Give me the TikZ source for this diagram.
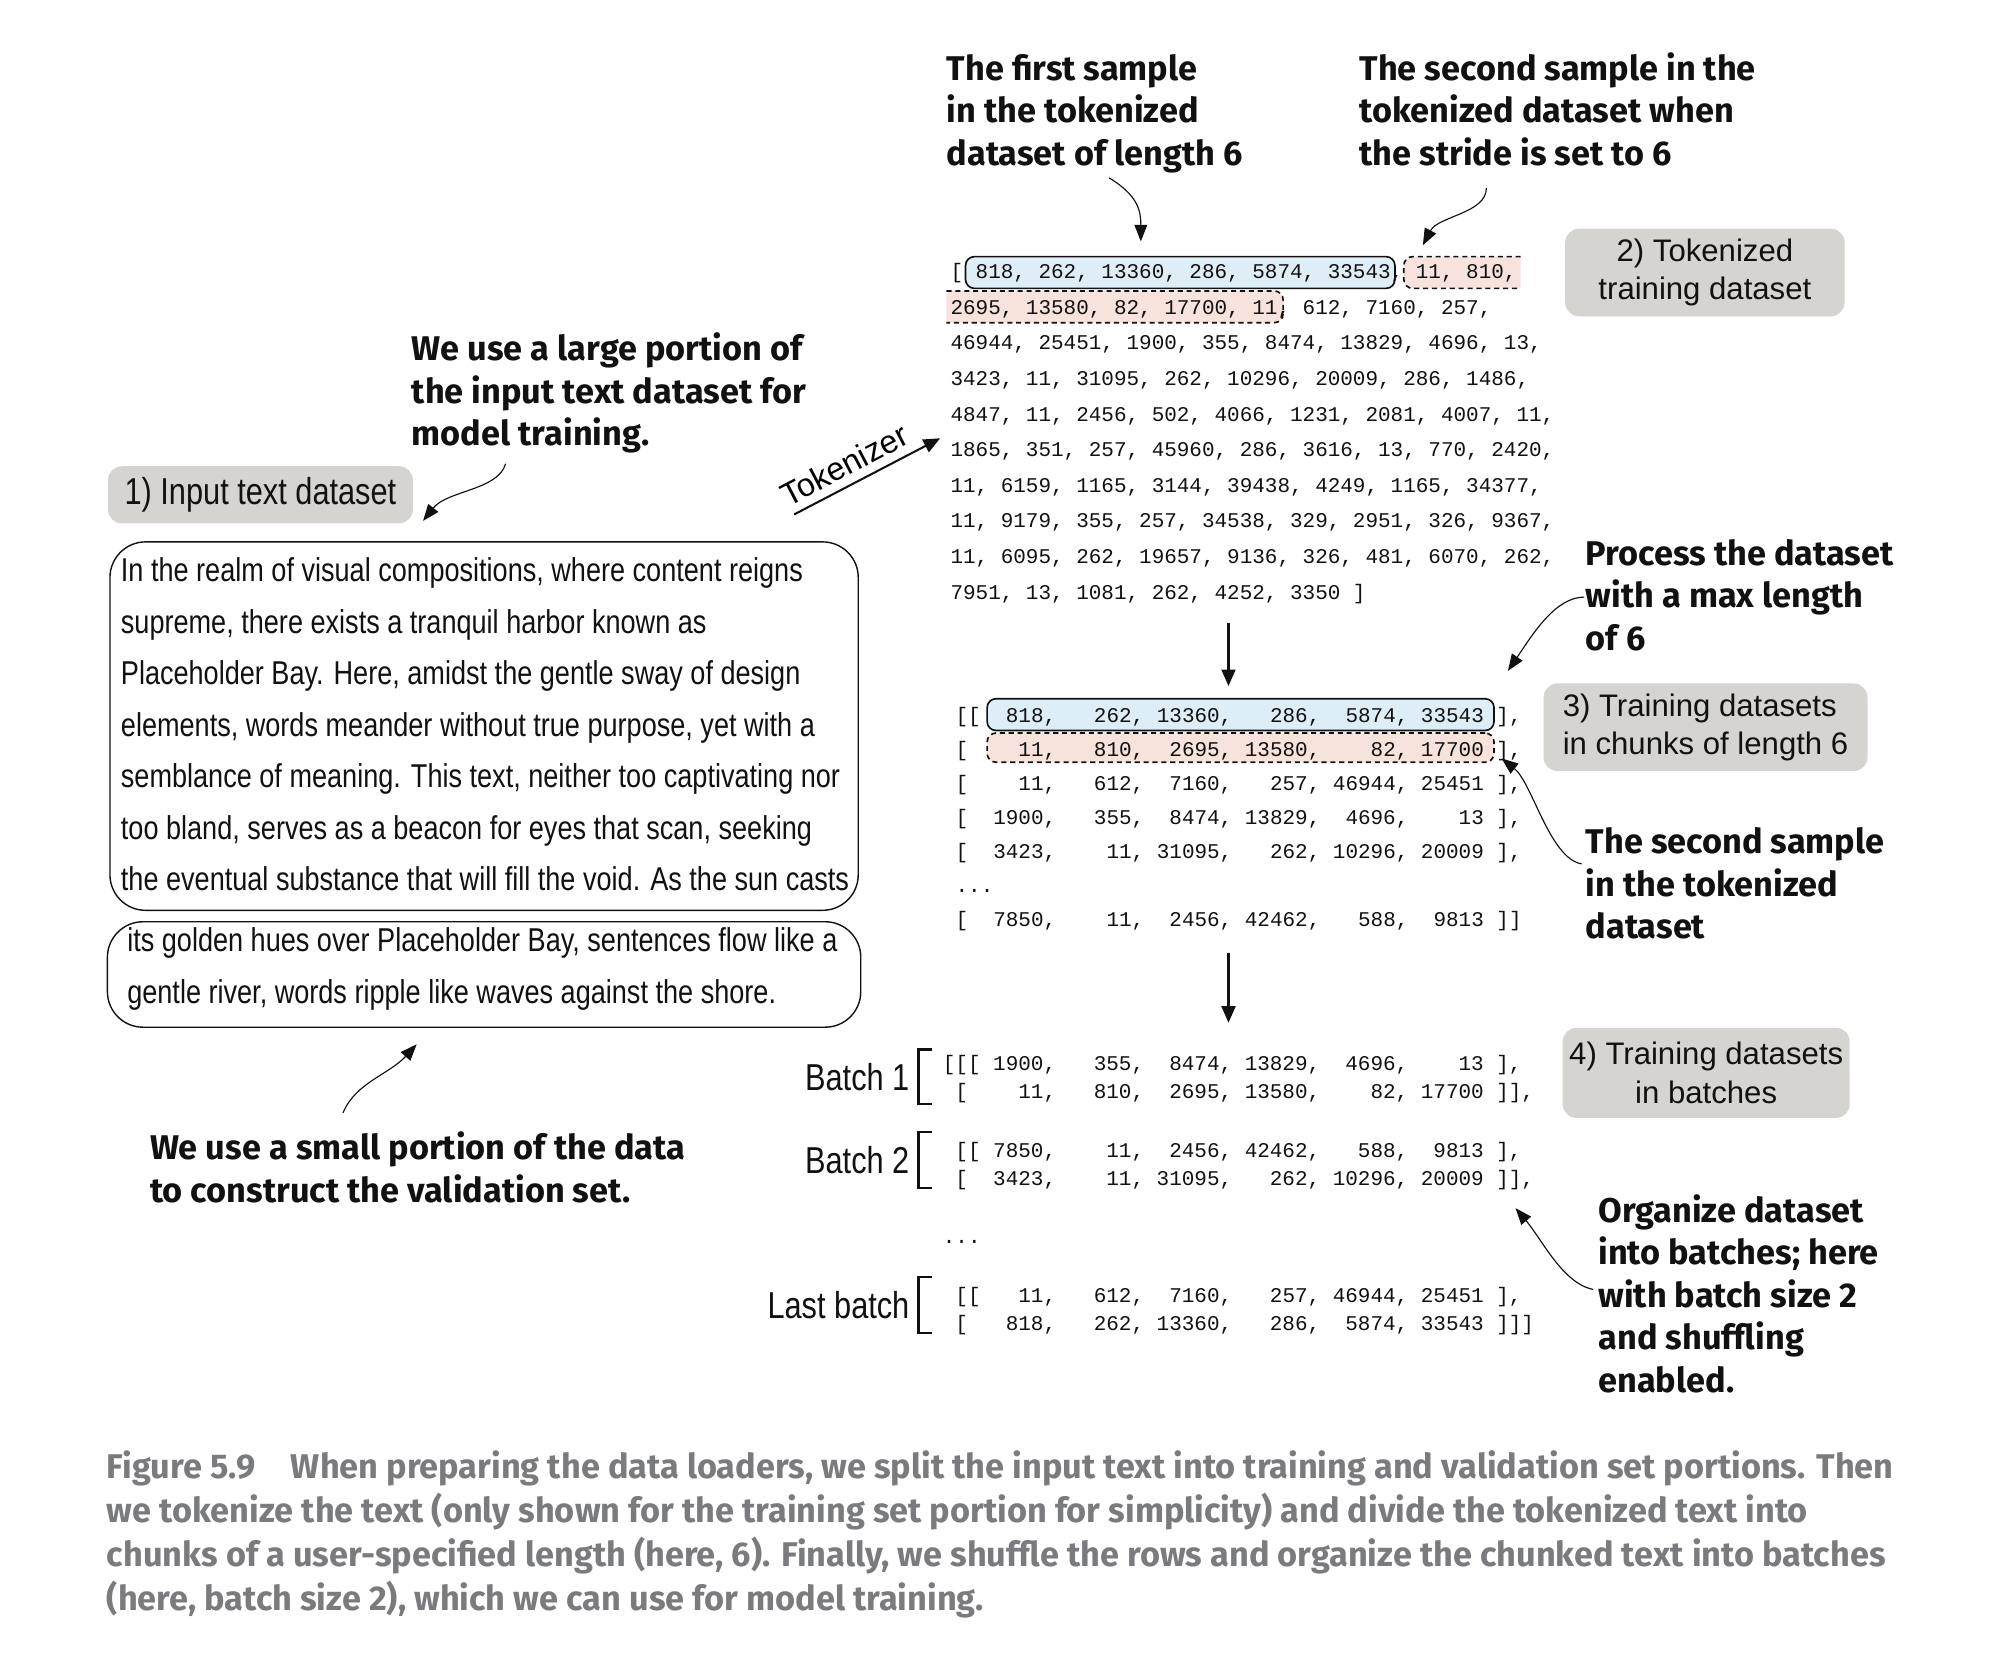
\documentclass[tikz,border=0pt]{standalone}
\usepackage{fontspec}
\setmainfont{Liberation Sans}
\newfontfamily\annofont{Fira Sans}
\newfontfamily\narrowfont[FakeStretch=0.82]{Liberation Sans}
\newfontfamily\tokfont{Liberation Mono}
\newfontfamily\capfont{Fira Sans}
\usetikzlibrary{arrows.meta, positioning, calc}
\definecolor{cText}   {HTML}{111111}
\definecolor{cStage}  {HTML}{D5D4D0}
\definecolor{cFirst}  {HTML}{DDEEF6}
\definecolor{cSecond} {HTML}{F8E2DC}
\definecolor{cCaption}{HTML}{7A7B7E}

\begin{document}
\begin{tikzpicture}[x=1pt, y=-1pt,
    anno/.style={font=\annofont\bfseries\fontsize{27}{33.5}\selectfont, text=cText,
                 align=left, anchor=base west, inner sep=0pt},
    stage/.style={fill=cStage, rounded corners=11pt, align=center, text=cText,
                  font=\fontsize{24.5}{30}\selectfont, inner sep=0pt},
    tok/.style={font=\tokfont\fontsize{16.5}{20}\selectfont, text=cText,
                anchor=base west, inner sep=0pt},
    para/.style={font=\narrowfont\fontsize{26}{30}\selectfont, text=cText,
                 anchor=base west, inner sep=0pt},
    textbox/.style={draw=cText, line width=1.1pt, rounded corners=28pt,
                    inner sep=0pt, anchor=north west},
    firstbox/.style={draw=cText, fill=cFirst, line width=1.3pt, rounded corners=7pt, inner sep=0pt},
    secondbox/.style={draw=cText, fill=cSecond, line width=1.3pt,
                      dash pattern=on 4pt off 3pt, rounded corners=7pt, inner sep=0pt},
    notearrow/.style={-{Triangle[length=13pt, width=10pt]}, line width=0.9pt, draw=cText},
    flow/.style={-{Triangle[length=13pt, width=11pt]}, line width=1.6pt, draw=cText},
    batchbracket/.style={line width=1.8pt, draw=cText},
  ]
  \useasboundingbox (0,0) rectangle (1568,1311);
  \fill[white] (0,0) rectangle (1568,1311);

  % input text, split in train / validation part
  \node[stage, font=\narrowfont\fontsize{29.5}{30}\selectfont,
        minimum width=240pt, minimum height=45pt] (inStage) at (205,389.5) {1) Input text dataset};
  \node[textbox, minimum width=589pt, minimum height=290pt] (trainText) at (86,426) {};
  \node[textbox, minimum width=593pt, minimum height=83pt] (valText) at (84,725) {};
  \foreach \rowtext [count=\i] in {
      {In the realm of visual compositions, where content reigns},
      {supreme, there exists a tranquil harbor known as},
      {Placeholder Bay. Here, amidst the gentle sway of design},
      {elements, words meander without true purpose, yet with a},
      {semblance of meaning. This text, neither too captivating nor},
      {too bland, serves as a beacon for eyes that scan, seeking},
      {the eventual substance that will fill the void. As the sun casts}}{
    \node[para] (train\i) at (95, {458+40.5*(\i-1)}) {\rowtext};
  }
  \foreach \rowtext [count=\i] in {
      {its golden hues over Placeholder Bay, sentences flow like a},
      {gentle river, words ripple like waves against the shore.}}{
    \node[para] (val\i) at (100, {749+41*(\i-1)}) {\rowtext};
  }

  % tokenized training text
  \node[firstbox, minimum width=338pt, minimum height=25pt] (firstTok) at (929,214.5) {};
  \path[secondbox] (1197,202) -- (1105,202) -- (1105,227) -- (1197,227);
  \path[secondbox] (745,229) -- (1010,229) -- (1010,254) -- (745,254);
  \foreach \rowtext [count=\i] in {
      {[ 818, 262, 13360, 286, 5874, 33543, 11, 810,},
      {2695, 13580, 82, 17700, 11, 612, 7160, 257,},
      {46944, 25451, 1900, 355, 8474, 13829, 4696, 13,},
      {3423, 11, 31095, 262, 10296, 20009, 286, 1486,},
      {4847, 11, 2456, 502, 4066, 1231, 2081, 4007, 11,},
      {1865, 351, 257, 45960, 286, 3616, 13, 770, 2420,},
      {11, 6159, 1165, 3144, 39438, 4249, 1165, 34377,},
      {11, 9179, 355, 257, 34538, 329, 2951, 326, 9367,},
      {11, 6095, 262, 19657, 9136, 326, 481, 6070, 262,},
      {7951, 13, 1081, 262, 4252, 3350 ]}}{
    \node[tok] (tok\i) at (748, {219.5+28*(\i-1)}) {\rowtext};
  }
  \node[stage, minimum width=220pt, minimum height=69pt] (tokStage) at (1342,214.5)
       {2) Tokenized\\training dataset};

  % chunks of length 6
  \node[firstbox, minimum width=399pt, minimum height=25pt] (firstChunk) at (976.5,562.5) {};
  \node[secondbox, minimum width=399pt, minimum height=23pt] (secondChunk) at (976.5,588.5) {};
  \foreach \ypos/\rowtext in {
      568.5/{[[~~818,~~~262,~13360,~~~286,~~5874,~33543~],},
      595.3/{[~~~~11,~~~810,~~2695,~13580,~~~~82,~17700~],},
      622.1/{[~~~~11,~~~612,~~7160,~~~257,~46944,~25451~],},
      648.9/{[~~1900,~~~355,~~8474,~13829,~~4696,~~~~13~],},
      675.7/{[~~3423,~~~~11,~31095,~~~262,~10296,~20009~],},
      729.3/{[~~7850,~~~~11,~~2456,~42462,~~~588,~~9813~]]}}{
    \node[tok] at (752, \ypos) {\rowtext};
  }
  \node[tok] (chunkDots) at (752,702.5) {.{}.{}.};
  \node[stage, align=left, minimum width=255pt, minimum height=69pt] (chunkStage) at (1342.5,572.5)
       {3) Training datasets\\in chunks of length 6};

  % batches
  \foreach \ypos/\rowtext in {
      842.5/{[[[~1900,~~~355,~~8474,~13829,~~4696,~~~~13~],},
      864.5/{~[~~~~11,~~~810,~~2695,~13580,~~~~82,~17700~]],},
      911.5/{~[[~7850,~~~~11,~~2456,~42462,~~~588,~~9813~],},
      933.5/{~[~~3423,~~~~11,~31095,~~~262,~10296,~20009~]],},
      1025.5/{~[[~~~11,~~~612,~~7160,~~~257,~46944,~25451~],},
      1047.5/{~[~~~818,~~~262,~13360,~~~286,~~5874,~33543~]]]}}{
    \node[tok] at (742, \ypos) {\rowtext};
  }
  \node[tok] (batchDots) at (742,978.5) {.{}.{}.};
  \foreach \ytop/\ybot/\ybase/\name in {826/869/858.5/Batch 1, 891/935/923.5/Batch 2, 1005/1049/1037.5/Last batch}{
    \draw[batchbracket] (734,\ytop) -- (723,\ytop) -- (723,\ybot) -- (734,\ybot);
    \node[para, font=\narrowfont\fontsize{29.5}{30}\selectfont, anchor=base east] at (716,\ybase) {\name};
  }
  \node[stage, minimum width=226pt, minimum height=71pt] (batchStage) at (1343,844.5)
       {4) Training datasets\\in batches};

  % flow arrows
  \coordinate (tokTail) at (625,405);
  \coordinate (tokHead) at (740,345);
  \draw[flow] (tokTail) -- node[pos=0.41, above=3pt, sloped, font=\fontsize{25.5}{26}\selectfont] {Tokenizer} (tokHead);
  \coordinate (listEnd) at (967,490);
  \coordinate (chunkTop) at (967,540);
  \draw[flow] (listEnd) -- (chunkTop);
  \coordinate (chunkEnd) at (967,750);
  \coordinate (batchTop) at (967,805);
  \draw[flow] (chunkEnd) -- (batchTop);

  % annotations (placed at the baseline of their last line)
  \node[anno] (firstNote) at (745,130) {The first sample\\in the tokenized\\dataset of length 6};
  \node[anno] (strideNote) at (1070,130) {The second sample in the\\tokenized dataset when\\the stride is set to 6};
  \node[anno] (largeNote) at (324,351) {We use a large portion of\\the input text dataset for\\model training.};
  \node[anno] (smallNote) at (118,946.5) {We use a small portion of the data\\to construct the validation set.};
  \node[anno] (maxNote) at (1248,512) {Process the dataset\\with a max length\\of 6};
  \node[anno] (sampleNote) at (1248,739) {The second sample\\in the tokenized\\dataset};
  \node[anno] (batchNote) at (1258,1096) {Organize dataset\\into batches; here\\with batch size 2\\and shuffling\\enabled.};

  \coordinate (firstTail) at (873,140);   \coordinate (firstTip) at (898,190);
  \coordinate (strideTail) at (1170,148); \coordinate (strideTip) at (1120,193);
  \coordinate (largeTail) at (398,365);   \coordinate (largeTip) at (333,410);
  \coordinate (smallTail) at (270,876);   \coordinate (smallTip) at (328,822);
  \coordinate (maxTail) at (1247,470);    \coordinate (maxTip) at (1187,528);
  \coordinate (sampleTail) at (1245,680); \coordinate (sampleTip) at (1182,597);
  \coordinate (batchTail) at (1254,1015); \coordinate (batchTip) at (1193,951);
  \draw[notearrow] (firstTail) .. controls (896,154) and (898,166) .. (firstTip);
  \draw[notearrow] (strideTail) .. controls (1170,168) and (1132,170) .. (strideTip);
  \draw[notearrow] (largeTail) .. controls (392,386) and (352,386) .. (largeTip);
  \draw[notearrow] (smallTail) .. controls (280,852) and (306,846) .. (smallTip);
  \draw[notearrow] (maxTail) .. controls (1224,470) and (1206,500) .. (maxTip);
  \draw[notearrow] (sampleTail) .. controls (1220,676) and (1206,616) .. (sampleTip);
  \draw[notearrow] (batchTail) .. controls (1230,1010) and (1214,976) .. (batchTip);

  % caption
  \node[font=\capfont\bfseries\fontsize{27}{34.7}\selectfont, text=cCaption, align=left,
        anchor=base west, inner sep=0pt] (caption) at (84,1268)
    {Figure 5.9\hspace{28pt}When preparing the data loaders, we split the input text into training and validation set portions. Then\\
     we tokenize the text (only shown for the training set portion for simplicity) and divide the tokenized text into\\
     chunks of a user-specified length (here, 6). Finally, we shuffle the rows and organize the chunked text into batches\\
     (here, batch size 2), which we can use for model training.};
\end{tikzpicture}
\end{document}
